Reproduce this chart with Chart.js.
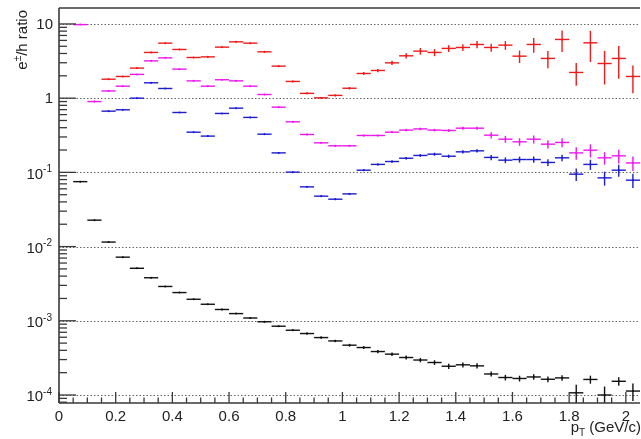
<!DOCTYPE html>
<html>
<head>
<meta charset="utf-8">
<script src="https://cdn.jsdelivr.net/npm/chart.js@4/dist/chart.umd.min.js"></script>
<style>
  body { margin: 0; background: #fff; }
  #wrap { width: 641px; height: 439px; }
</style>
</head>
<body>
<div id="wrap"><canvas id="myChart" width="641" height="439"></canvas></div>
<script>
"use strict";

// bin centres (GeV/c), each bin is 0.05 wide
const binCenters = [0.075, 0.125, 0.175, 0.225, 0.275, 0.325, 0.375, 0.425, 0.475, 0.525,
  0.575, 0.625, 0.675, 0.725, 0.775, 0.825, 0.875, 0.925, 0.975, 1.025,
  1.075, 1.125, 1.175, 1.225, 1.275, 1.325, 1.375, 1.425, 1.475, 1.525,
  1.575, 1.625, 1.675, 1.725, 1.775, 1.825, 1.875, 1.925, 1.975, 2.025];
const binHalf = 0.025;

const redVals = [null, null, 1.80, 1.96, 2.54, 4.13, 5.51, 4.53, 3.53, 3.60,
  4.87, 5.74, 5.51, 4.21, 2.70, 1.68, 1.16, 1.01, 1.09, 1.36,
  2.15, 2.36, 2.99, 3.72, 4.30, 4.13, 4.68, 4.82, 5.29, 4.82,
  5.18, 3.68, 5.29, 3.43, 6.18, 2.22, 5.57, 2.93, 3.43, 1.96];
const redErr = [null, null, 0.03, 0.03, 0.04, 0.08, 0.1, 0.08, 0.06, 0.07,
  0.09, 0.1, 0.1, 0.08, 0.06, 0.04, 0.03, 0.03, 0.03, 0.05,
  0.1, 0.12, 0.2, 0.3, 0.45, 0.45, 0.5, 0.5, 0.6, 0.6,
  0.7, 0.7, 1.2, 0.9, 2.0, 0.75, 2.5, 1.4, 1.6, 0.8];

const magentaVals = [9.8, 0.90, 1.25, 1.45, 2.09, 3.18, 3.49, 2.46, 1.71, 1.45,
  1.77, 1.71, 1.45, 1.12, 0.756, 0.48, 0.324, 0.25, 0.228, 0.228,
  0.314, 0.314, 0.348, 0.371, 0.385, 0.371, 0.367, 0.394, 0.394, 0.317,
  0.28, 0.258, 0.28, 0.24, 0.253, 0.183, 0.199, 0.157, 0.167, 0.134];
const magentaErr = [0.15, 0.02, 0.02, 0.02, 0.03, 0.05, 0.05, 0.04, 0.03, 0.03,
  0.03, 0.03, 0.03, 0.02, 0.015, 0.01, 0.008, 0.006, 0.006, 0.006,
  0.008, 0.008, 0.01, 0.012, 0.015, 0.015, 0.015, 0.018, 0.018, 0.03,
  0.03, 0.03, 0.035, 0.03, 0.035, 0.035, 0.04, 0.03, 0.035, 0.03];

const blueVals = [null, null, 0.668, 0.697, 1.0, 1.61, 1.35, 0.641, 0.348, 0.308,
  0.622, 0.733, 0.55, 0.327, 0.183, 0.1007, 0.0638, 0.0478, 0.0435, 0.0513,
  0.107, 0.128, 0.140, 0.155, 0.169, 0.176, 0.165, 0.189, 0.195, 0.159,
  0.146, 0.149, 0.149, 0.136, 0.157, 0.0946, 0.128, 0.0843, 0.107, 0.0785];
const blueErr = [null, null, 0.01, 0.01, 0.015, 0.025, 0.02, 0.01, 0.006, 0.005,
  0.01, 0.012, 0.01, 0.006, 0.004, 0.002, 0.0015, 0.0012, 0.0012, 0.0015,
  0.003, 0.004, 0.005, 0.006, 0.007, 0.008, 0.008, 0.01, 0.01, 0.013,
  0.013, 0.014, 0.014, 0.014, 0.016, 0.018, 0.02, 0.018, 0.02, 0.017];

const blackVals = [0.075, 0.0227, 0.0115, 0.0072, 0.0051, 0.0038, 0.0029, 0.0024, 0.00195, 0.00167,
  0.00142, 0.00125, 0.00109, 0.00097, 0.000845, 0.000746, 0.000673, 0.000594, 0.000535, 0.000469,
  0.000436, 0.000385, 0.000355, 0.00032, 0.000296, 0.000274, 0.000244, 0.000255, 0.000247, 0.000192,
  0.000172, 0.000167, 0.000175, 0.000163, 0.00017, 0.000107, 0.000162, 0.0001, 0.000153, 0.000113];
const blackErr = [0.0008, 0.0003, 0.00015, 0.0001, 0.00007, 0.00005, 0.00004, 0.00003, 0.00003, 0.00003,
  0.00003, 0.00002, 0.00002, 0.00002, 0.00002, 0.00002, 0.00002, 0.00002, 0.00002, 0.00002,
  0.00002, 0.00002, 0.00002, 0.00002, 0.00002, 0.00002, 0.00002, 0.00002, 0.00002, 0.000015,
  0.000015, 0.000015, 0.000015, 0.000015, 0.000015, 0.00003, 0.00002, 0.00003, 0.00002, 0.00003];

// axis ticks
const xTickVals = [0, 0.2, 0.4, 0.6, 0.8, 1, 1.2, 1.4, 1.6, 1.8, 2];
const yTickExps = [-4, -3, -2, -1, 0, 1];

const FONT = '"Liberation Sans", Arial, Helvetica, sans-serif';
const AXIS_COL = '#3a3a3a';

function makeSet(label, vals, errs, color) {
  const pts = [];
  binCenters.forEach((c, i) => {
    if (vals[i] != null) pts.push({ x: c, y: vals[i], e: errs[i] });
  });
  return {
    label: label,
    data: pts,
    borderColor: color,
    backgroundColor: color,
    pointRadius: 1,
    pointHoverRadius: 1,
    borderWidth: 0,
    showLine: false
  };
}

function seg(ctx, x1, y1, x2, y2) {
  ctx.beginPath();
  ctx.moveTo(x1, y1);
  ctx.lineTo(x2, y2);
  ctx.stroke();
}

// ROOT-like frame, dotted grid, inward ticks and error crosses
const rootLook = {
  id: 'rootLook',
  beforeDatasetsDraw(chart) {
    const { ctx, chartArea: a, scales: { y } } = chart;
    ctx.save();
    ctx.strokeStyle = '#666';
    ctx.lineWidth = 1;
    ctx.setLineDash([1.5, 2]);
    yTickExps.forEach(p => {
      const py = Math.round(y.getPixelForValue(Math.pow(10, p))) + 0.5;
      seg(ctx, a.left, py, a.right, py);
    });
    ctx.restore();
  },
  afterDatasetsDraw(chart) {
    const { ctx, chartArea: a, scales: { x, y } } = chart;
    ctx.save();
    ctx.beginPath();
    ctx.rect(a.left, a.top, a.right - a.left, a.bottom - a.top);
    ctx.clip();
    ctx.lineWidth = 1.4;
    chart.data.datasets.forEach(ds => {
      ctx.strokeStyle = ds.borderColor;
      ds.data.forEach(p => {
        const px = x.getPixelForValue(p.x);
        const py = y.getPixelForValue(p.y);
        seg(ctx, x.getPixelForValue(p.x - binHalf), py, x.getPixelForValue(p.x + binHalf), py);
        if (p.e) {
          const lo = Math.max(p.y - p.e, 1e-6);
          seg(ctx, px, y.getPixelForValue(p.y + p.e), px, y.getPixelForValue(lo));
        }
      });
    });
    ctx.restore();

    // frame
    ctx.save();
    ctx.strokeStyle = AXIS_COL;
    ctx.lineWidth = 1.6;
    seg(ctx, a.left, a.top, a.right, a.top);
    seg(ctx, a.left, a.top, a.left, a.bottom);
    seg(ctx, a.left, a.bottom, a.right, a.bottom);
    ctx.lineWidth = 1.3;
    // y ticks
    for (let d = -5; d <= 1; d++) {
      for (let m = 1; m <= 9; m++) {
        const v = m * Math.pow(10, d);
        if (v < y.min || v > y.max) continue;
        const py = y.getPixelForValue(v);
        seg(ctx, a.left, py, a.left + (m === 1 ? 17 : 8), py);
      }
    }
    // x ticks
    for (let k = 0; k <= 41; k++) {
      const v = k * 0.05;
      if (v > x.max) break;
      const px = x.getPixelForValue(v);
      seg(ctx, px, a.bottom, px, a.bottom - (k % 4 === 0 ? 11 : 5.5));
    }
    ctx.restore();
  },
  afterDraw(chart) {
    const { ctx, chartArea: a, scales: { y } } = chart;
    ctx.save();
    ctx.fillStyle = '#222';
    // y tick labels with exponents
    yTickExps.forEach(p => {
      const py = y.getPixelForValue(Math.pow(10, p));
      ctx.textBaseline = 'middle';
      ctx.textAlign = 'right';
      if (p === 0 || p === 1) {
        ctx.font = '15px ' + FONT;
        ctx.fillText(p === 0 ? '1' : '10', 53, py + 1);
      } else {
        const sup = '-' + (-p);
        ctx.font = '10px ' + FONT;
        const sw = ctx.measureText(sup).width;
        ctx.fillText(sup, 52, py - 3);
        ctx.font = '15px ' + FONT;
        ctx.fillText('10', 52 - sw, py + 2);
      }
    });

    // y axis title, rotated, top aligned
    ctx.font = '15px ' + FONT;
    const w1 = ctx.measureText('e').width;
    ctx.font = '10px ' + FONT;
    const w2 = ctx.measureText('\u00b1').width;
    ctx.font = '15px ' + FONT;
    const w3 = ctx.measureText('/h ratio').width;
    const total = w1 + w2 + w3;
    ctx.translate(27, 10 + total);
    ctx.rotate(-Math.PI / 2);
    ctx.textAlign = 'left';
    ctx.textBaseline = 'alphabetic';
    ctx.fillText('e', 0, 0);
    ctx.font = '10px ' + FONT;
    ctx.fillText('\u00b1', w1, -6);
    ctx.font = '15px ' + FONT;
    ctx.fillText('/h ratio', w1 + w2, 0);
    ctx.restore();

    // x axis title
    ctx.save();
    ctx.fillStyle = '#222';
    ctx.textBaseline = 'alphabetic';
    ctx.textAlign = 'left';
    ctx.font = '15px ' + FONT;
    const rest = ' (GeV/c)';
    const wr = ctx.measureText(rest).width;
    const wp = ctx.measureText('p').width;
    ctx.font = '10px ' + FONT;
    const wt = ctx.measureText('T').width;
    let sx = 641 - wr - wt - wp;
    ctx.font = '15px ' + FONT;
    ctx.fillText('p', sx, 432);
    ctx.font = '10px ' + FONT;
    ctx.fillText('T', sx + wp, 436);
    ctx.font = '15px ' + FONT;
    ctx.fillText(rest, sx + wp + wt, 432);
    ctx.restore();
  }
};

const ctx = document.getElementById('myChart').getContext('2d');

const chart = new Chart(ctx, {
  type: 'scatter',
  data: {
    datasets: [
      makeSet('black', blackVals, blackErr, '#111111'),
      makeSet('blue', blueVals, blueErr, '#1c1cd0'),
      makeSet('magenta', magentaVals, magentaErr, '#ee18ee'),
      makeSet('red', redVals, redErr, '#ee1c1c')
    ]
  },
  options: {
    responsive: false,
    animation: false,
    layout: { padding: { top: 8, right: 0, left: 0, bottom: 0 } },
    plugins: {
      legend: { display: false },
      tooltip: { enabled: false },
      title: { display: false }
    },
    scales: {
      x: {
        type: 'linear',
        min: 0,
        max: 2.05,
        grid: { display: false, drawTicks: false },
        border: { display: false },
        afterBuildTicks: s => { s.ticks = xTickVals.map(v => ({ value: v })); },
        afterFit: s => { s.height = 36; },
        ticks: {
          padding: 5,
          color: '#222',
          maxRotation: 0,
          font: { family: FONT, size: 15 },
          callback: v => String(Math.round(v * 10) / 10)
        }
      },
      y: {
        type: 'logarithmic',
        min: 7.8e-5,
        max: 16.4,
        grid: { display: false, drawTicks: false },
        border: { display: false },
        afterBuildTicks: s => { s.ticks = yTickExps.map(p => ({ value: Math.pow(10, p) })); },
        afterFit: s => { s.width = 59; },
        ticks: { display: false }
      }
    }
  },
  plugins: [rootLook]
});
</script>
</body>
</html>
